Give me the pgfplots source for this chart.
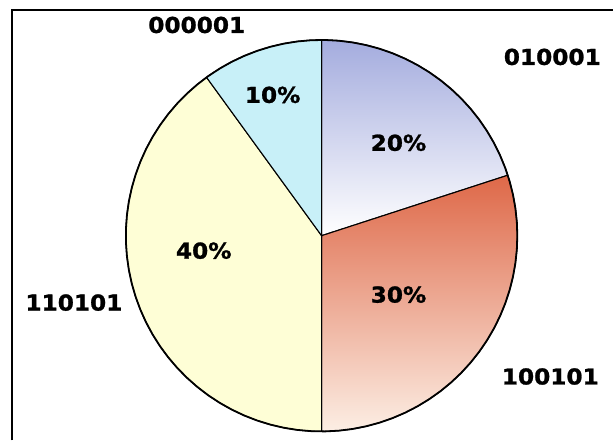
\documentclass[border=0pt]{standalone}
\usepackage{pgfplots}
\pgfplotsset{compat=1.18}
\usepackage{fontspec}
\setmainfont{DejaVu Sans}
\newfontfamily\labfont{DejaVu Sans Bold}[FakeStretch=1.06,FakeBold=1.2]
\definecolor{cA}{RGB}{200,240,248}
\definecolor{cBtop}{RGB}{164,172,222}
\definecolor{cBmid}{RGB}{214,218,240}
\definecolor{cCtop}{RGB}{222,104,72}
\definecolor{cCmid}{RGB}{234,146,114}
\definecolor{cCbot}{RGB}{252,238,228}
\definecolor{cD}{RGB}{254,254,214}
% slice values (percent), clockwise from 12 o'clock
\def\vB{20}\def\vC{30}\def\vD{40}\def\vA{10}
\def\cx{322}\def\cy{205}\def\rr{196}
\begin{document}
\begin{tikzpicture}
\begin{axis}[
  width=614bp, height=441bp, scale only axis,
  xmin=0, xmax=614, ymin=0, ymax=441,
  hide axis, clip=false,
  samples=90,
]
\path (axis cs:0,0) rectangle (axis cs:614,441);
% 010001
\addplot[draw=black, line width=1.1pt, top color=cBtop, middle color=cBmid, bottom color=white, domain={90-3.6*\vB}:90]
  ({\cx+\rr*cos(x)},{\cy+\rr*sin(x)}) -- (axis cs:\cx,\cy) -- cycle;
% 100101
\addplot[draw=black, line width=1.1pt, top color=cCtop, middle color=cCmid, bottom color=cCbot, domain={90-3.6*(\vB+\vC)}:{90-3.6*\vB}]
  ({\cx+\rr*cos(x)},{\cy+\rr*sin(x)}) -- (axis cs:\cx,\cy) -- cycle;
% 110101
\addplot[draw=black, line width=1.1pt, fill=cD, domain={90-3.6*(\vB+\vC+\vD)}:{90-3.6*(\vB+\vC)}]
  ({\cx+\rr*cos(x)},{\cy+\rr*sin(x)}) -- (axis cs:\cx,\cy) -- cycle;
% 000001
\addplot[draw=black, line width=1.1pt, fill=cA, domain={90-3.6*(\vB+\vC+\vD+\vA)}:{90-3.6*(\vB+\vC+\vD)}]
  ({\cx+\rr*cos(x)},{\cy+\rr*sin(x)}) -- (axis cs:\cx,\cy) -- cycle;
% outer outline
\addplot[draw=black, line width=1.8pt, domain=0:360]
  ({\cx+\rr*cos(x)},{\cy+\rr*sin(x)});
% frame
\draw[line width=1.6pt] (axis cs:12,0) -- (axis cs:12,431) -- (axis cs:614,431);
% labels
\begin{scope}[every node/.style={font=\labfont\fontsize{22}{26}\selectfont}]
\node at (axis cs:197,416) {000001};
\node at (axis cs:553,384) {010001};
\node at (axis cs:551,64) {100101};
\node at (axis cs:74,138) {110101};
\node at (axis cs:273,346) {10\%};
\node at (axis cs:399,298) {20\%};
\node at (axis cs:399,146) {30\%};
\node at (axis cs:204,190) {40\%};
\end{scope}
\end{axis}
\end{tikzpicture}
\end{document}
